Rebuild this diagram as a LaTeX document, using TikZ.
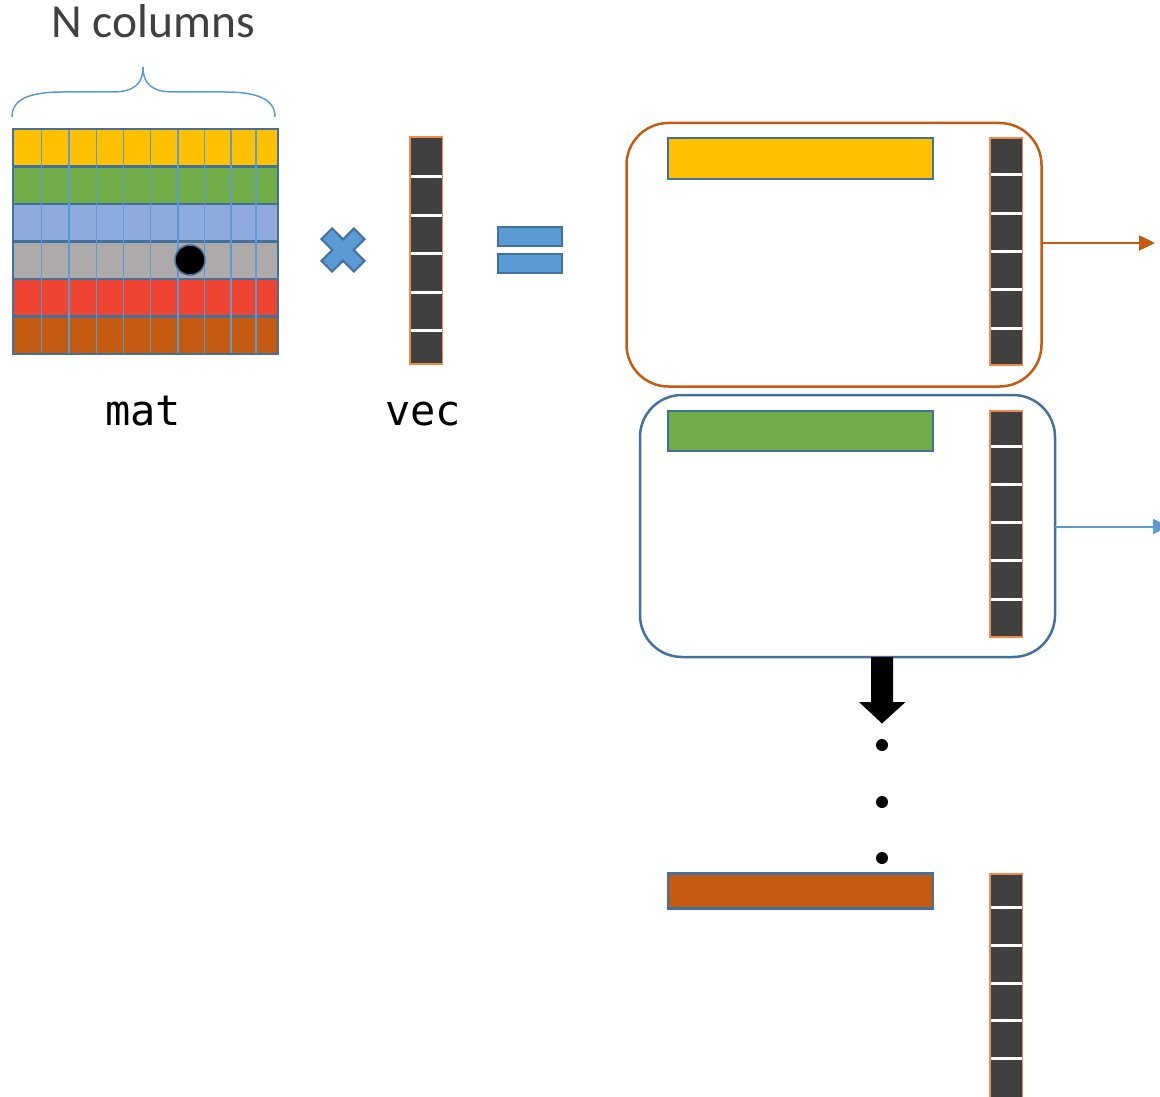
\documentclass[tikz,border=0pt]{standalone}
\usepackage{fontspec}
\setmainfont{Carlito}
\newfontfamily\monof{DejaVu Sans Mono}
\usetikzlibrary{arrows.meta}
\definecolor{cYel}{HTML}{FFC000}
\definecolor{cGrn}{HTML}{70AD47}
\definecolor{cLBl}{HTML}{8FAADC}
\definecolor{cGry}{HTML}{AEAAAA}
\definecolor{cRed}{HTML}{F04432}
\definecolor{cOrg}{HTML}{C55A11}
\definecolor{cDkB}{HTML}{41719C}
\definecolor{cMdB}{HTML}{5B9BD5}
\definecolor{cVec}{HTML}{404040}
\definecolor{cVecB}{HTML}{EE8B4A}
\definecolor{cTxt}{HTML}{404040}
\newcommand\drawvec[5]{%
  \node[vecbox, minimum height={#4-#3}, anchor=north west] (#1) at (#2,#3) {};
  \foreach \s in {#5} \draw[vecsep] (#2+1,\s) -- (#2+31.5,\s);
}
\tikzset{
  vecbox/.style={rectangle, fill=cVec, draw=cVecB, line width=1.5pt, minimum width=32.5pt, inner sep=0pt, outer sep=0pt},
  vecsep/.style={white, line width=3pt},
  barbox/.style={rectangle, draw=cDkB, line width=2.5pt, minimum width=265pt, inner sep=0pt, outer sep=0pt, anchor=north west},
  bigbox/.style={rectangle, rounded corners=42pt, line width=2.5pt, minimum width=415pt, inner sep=0pt, outer sep=0pt},
  colline/.style={cMdB, line width=1.2pt},
  rowline/.style={cDkB, line width=2.5pt},
  sign/.style={fill=cMdB, draw=cDkB, line width=2pt},
  dotn/.style={circle, fill=black, minimum size=12pt, inner sep=0pt},
}
\begin{document}
\begin{tikzpicture}[x=1pt, y=-1pt]
\useasboundingbox (0,0) rectangle (1160,1097);
\clip (0,0) rectangle (1160,1097);

% title and brace
\node[anchor=base, text=cTxt, font=\fontsize{47.5}{52}\selectfont, inner sep=0pt] (title) at (153,38) {N columns};
\draw[cMdB, line width=1.5pt] (12,117) .. controls (12,99) and (30,92) .. (62,92) -- (112,92)
  .. controls (134,92) and (143,84) .. (143,67)
  .. controls (143,84) and (152,92) .. (174,92) -- (225,92)
  .. controls (257,92) and (275,99) .. (275,117);

% matrix
\node[rectangle, minimum width=265pt, minimum height=225pt, anchor=north west, inner sep=0pt, outer sep=0pt] (mat) at (13,129) {};
\foreach \c [count=\i from 0] in {cYel,cGrn,cLBl,cGry,cRed,cOrg}
  \fill[\c] (13,129+\i*37.5) rectangle (278,166.5+\i*37.5);
\foreach \i in {1,...,5}
  \draw[rowline] (13,129+\i*37.5) -- (278,129+\i*37.5);
\foreach \x in {41.5,69,96.5,123.5,150.5,178,204.5,231,256}
  \draw[colline] (\x,129) -- (\x,354);
\draw[rowline] (mat.north west) rectangle (mat.south east);
\node[circle, fill=black, draw=cDkB, line width=1.5pt, minimum size=30pt, inner sep=0pt] (dot) at (190,260) {};
\node[anchor=base, font=\monof\fontsize{42}{46}\selectfont, inner sep=0pt] (matl) at (143,425) {mat};

% multiply sign
\coordinate (mul) at (343,250);
\draw[sign, shift={(mul)}, rotate=45]
  (7.5,7.5) -- (23,7.5) -- (23,-7.5) -- (7.5,-7.5) -- (7.5,-23) -- (-7.5,-23) -- (-7.5,-7.5)
  -- (-23,-7.5) -- (-23,7.5) -- (-7.5,7.5) -- (-7.5,23) -- (7.5,23) -- cycle;

% vec
\drawvec{vec}{410}{137}{364}{177,215,253,292,330}
\node[anchor=base, font=\monof\fontsize{42}{46}\selectfont, inner sep=0pt] (vecl) at (423,425) {vec};

% equals sign
\node[sign, rectangle, minimum width=64pt, minimum height=19pt, inner sep=0pt, outer sep=0pt, anchor=north west] (eq1) at (498,227) {};
\node[sign, rectangle, minimum width=64pt, minimum height=19pt, inner sep=0pt, outer sep=0pt, anchor=north west] (eq2) at (498,254) {};

% first box
\node[bigbox, draw=cOrg, minimum height=263.5pt] (box1) at (834,254.75) {};
\node[barbox, fill=cYel, minimum height=41pt] (bar1) at (668,138) {};
\drawvec{v1}{990}{138}{365}{175,213,251,289,328}
\coordinate (a1) at (1155,243);
\draw[cOrg, line width=2.5pt, -{Triangle[length=16pt,width=15pt]}] (box1.east |- a1) -- (a1);

% second box
\node[bigbox, draw=cDkB, minimum height=262pt] (box2) at (847.5,526) {};
\node[barbox, fill=cGrn, minimum height=40pt] (bar2) at (668,411) {};
\drawvec{v2}{990}{411}{637}{446,484,522,560,599}
\coordinate (a2) at (1169,526.5);
\draw[cMdB, line width=2pt, -{Triangle[length=16pt,width=15pt]}] (box2.east |- a2) -- (a2);

% block arrow and dots
\coordinate (bx) at (882,0);
\fill[black, shift={(box2.south -| bx)}]
  (-11,0) -- (-11,45) -- (-23,45) -- (0,66.5) -- (23.5,45) -- (11,45) -- (11,0) -- cycle;
\node[dotn] (d1) at (882,745) {};
\node[dotn] (d2) at (882,802) {};
\node[dotn] (d3) at (882,858) {};

% last row
\node[barbox, fill=cOrg, minimum height=35pt] (bar3) at (668,873.5) {};
\drawvec{v3}{990}{874}{1120}{907,945,983,1020,1058}
\end{tikzpicture}
\end{document}
